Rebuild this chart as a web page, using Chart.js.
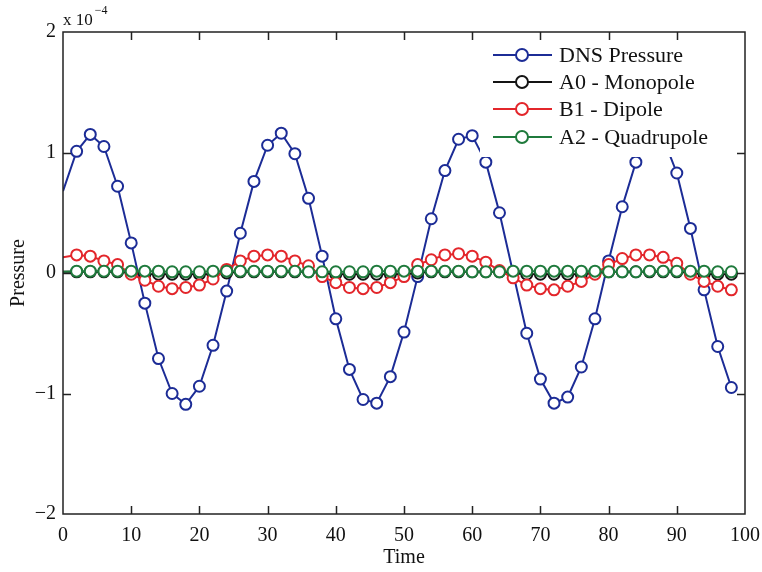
<!DOCTYPE html>
<html>
<head>
<meta charset="utf-8">
<script src="https://cdn.jsdelivr.net/npm/chart.js@4.4.0/dist/chart.umd.min.js"></script>
<style>
  html, body { margin: 0; padding: 0; background: #fff; }
  #wrap { width: 762px; height: 572px; }
</style>
</head>
<body>
<div id="wrap"><canvas id="c"></canvas></div>
<script>
// time samples (every 2 units)
const time = [0, 2, 4, 6, 8, 10, 12, 14, 16, 18, 20, 22, 24, 26, 28, 30, 32, 34, 36, 38,
              40, 42, 44, 46, 48, 50, 52, 54, 56, 58, 60, 62, 64, 66, 68, 70, 72, 74, 76, 78,
              80, 82, 84, 86, 88, 90, 92, 94, 96, 98];

// pressure, in units of 1e-4
const dnsPressure = [0.68, 1.01, 1.15, 1.05, 0.72, 0.25, -0.25, -0.71, -1.00, -1.09,
                     -0.94, -0.60, -0.15, 0.33, 0.76, 1.06, 1.16, 0.99, 0.62, 0.14,
                     -0.38, -0.80, -1.05, -1.08, -0.86, -0.49, -0.03, 0.45, 0.85, 1.11,
                     1.14, 0.92, 0.50, 0.00, -0.50, -0.88, -1.08, -1.03, -0.78, -0.38,
                     0.10, 0.55, 0.92, 1.12, 1.12, 0.83, 0.37, -0.14, -0.61, -0.95];

const monopole = [0.01, 0.01, 0.01, 0.01, 0.01, 0.00, -0.01, -0.01, -0.01, -0.01,
                  -0.01, -0.01, 0.00, 0.01, 0.01, 0.01, 0.01, 0.01, 0.01, 0.00,
                  -0.01, -0.01, -0.01, -0.01, -0.01, -0.01, 0.00, 0.01, 0.01, 0.01,
                  0.01, 0.01, 0.01, 0.00, -0.01, -0.01, -0.01, -0.01, -0.01, 0.00,
                  0.01, 0.01, 0.01, 0.01, 0.01, 0.01, 0.00, -0.01, -0.01, -0.01];

const dipole = [0.13, 0.15, 0.14, 0.10, 0.07, -0.01, -0.06, -0.11, -0.13, -0.12,
                -0.10, -0.05, 0.03, 0.10, 0.14, 0.15, 0.14, 0.10, 0.06, -0.03,
                -0.08, -0.12, -0.13, -0.12, -0.08, -0.03, 0.07, 0.11, 0.15, 0.16,
                0.14, 0.09, 0.02, -0.04, -0.10, -0.13, -0.14, -0.11, -0.07, -0.01,
                0.07, 0.12, 0.15, 0.15, 0.13, 0.08, -0.01, -0.07, -0.11, -0.14];

const quadrupole = [0.01, 0.015, 0.015, 0.015, 0.015, 0.015, 0.015, 0.015, 0.01, 0.01,
                    0.01, 0.015, 0.015, 0.015, 0.015, 0.015, 0.015, 0.015, 0.01, 0.01,
                    0.01, 0.01, 0.01, 0.015, 0.015, 0.015, 0.015, 0.015, 0.015, 0.015,
                    0.01, 0.01, 0.01, 0.015, 0.015, 0.015, 0.015, 0.015, 0.015, 0.015,
                    0.01, 0.01, 0.01, 0.015, 0.015, 0.015, 0.015, 0.015, 0.01, 0.01];

const xTicks = [0, 10, 20, 30, 40, 50, 60, 70, 80, 90, 100];
const yTicks = [-2, -1, 0, 1, 2];

const seriesNames = ['DNS Pressure', 'A0 - Monopole', 'B1 - Dipole', 'A2 - Quadrupole'];
const seriesColors = ['#1c2c96', '#141414', '#e3262b', '#1f7a3c'];

const FONT = 'Liberation Serif';

function toPoints(values) {
    return values.map((v, i) => ({ x: time[i], y: v }));
}

function makeDataset(i, values) {
    return {
        label: seriesNames[i],
        data: toPoints(values),
        borderColor: seriesColors[i],
        backgroundColor: '#ffffff',
        pointBorderColor: seriesColors[i],
        pointBackgroundColor: '#ffffff',
        borderWidth: 2,
        pointBorderWidth: 2,
        pointRadius: ctx => ctx.dataIndex === 0 ? 0 : 5.5,
        tension: 0,
        order: 4 - i
    };
}

// box, inward ticks, legend and exponent label
const framePlugin = {
    id: 'frame',
    afterDatasetsDraw(chart) {
        const { ctx, chartArea: a, scales: { x, y } } = chart;
        ctx.save();

        // legend background
        ctx.fillStyle = '#ffffff';
        ctx.fillRect(480, a.top + 1, a.right - 481, 156 - a.top);

        const rows = [55, 82, 109, 137];
        seriesNames.forEach((name, i) => {
            const yy = rows[i];
            ctx.strokeStyle = seriesColors[i];
            ctx.lineWidth = 2;
            ctx.beginPath();
            ctx.moveTo(493, yy);
            ctx.lineTo(552, yy);
            ctx.stroke();
            ctx.beginPath();
            ctx.arc(522, yy, 6, 0, Math.PI * 2);
            ctx.fillStyle = '#ffffff';
            ctx.fill();
            ctx.stroke();
            ctx.fillStyle = '#111';
            ctx.font = '22px "' + FONT + '"';
            ctx.textBaseline = 'middle';
            ctx.textAlign = 'left';
            ctx.fillText(name, 559, yy + 1);
        });

        // axes box
        ctx.strokeStyle = '#222';
        ctx.lineWidth = 1.5;
        ctx.strokeRect(a.left, a.top, a.right - a.left, a.bottom - a.top);

        // inward ticks
        const tl = 8;
        ctx.beginPath();
        xTicks.forEach(v => {
            if (v === 0 || v === 100) return;
            const px = Math.round(x.getPixelForValue(v)) + 0.5;
            ctx.moveTo(px, a.bottom); ctx.lineTo(px, a.bottom - tl);
            ctx.moveTo(px, a.top); ctx.lineTo(px, a.top + tl);
        });
        yTicks.forEach(v => {
            if (v === -2 || v === 2) return;
            const py = Math.round(y.getPixelForValue(v)) + 0.5;
            ctx.moveTo(a.left, py); ctx.lineTo(a.left + tl, py);
            ctx.moveTo(a.right, py); ctx.lineTo(a.right - tl, py);
        });
        ctx.stroke();

        // exponent label
        ctx.fillStyle = '#111';
        ctx.textAlign = 'left';
        ctx.textBaseline = 'alphabetic';
        ctx.font = '17px "' + FONT + '"';
        ctx.fillText('x 10', a.left, 25);
        const w = ctx.measureText('x 10').width;
        ctx.font = '12px "' + FONT + '"';
        ctx.fillText('\u22124', a.left + w + 2, 14);

        ctx.restore();
    }
};

new Chart(document.getElementById('c'), {
    type: 'line',
    data: {
        datasets: [
            makeDataset(0, dnsPressure),
            makeDataset(1, monopole),
            makeDataset(2, dipole),
            makeDataset(3, quadrupole)
        ]
    },
    options: {
        responsive: true,
        maintainAspectRatio: false,
        animation: false,
        layout: { padding: { top: 32, right: 17, bottom: 0, left: 0 } },
        scales: {
            x: {
                type: 'linear',
                min: 0,
                max: 100,
                afterBuildTicks: scale => { scale.ticks = xTicks.map(v => ({ value: v })); },
                afterFit: scale => {
                    scale.height = 58;
                    scale.paddingLeft = 0;
                    scale.paddingRight = 0;
                },
                grid: { display: false, drawTicks: false },
                border: { display: false },
                ticks: {
                    color: '#111',
                    padding: 10,
                    maxRotation: 0,
                    font: { family: FONT, size: 20 }
                },
                title: {
                    display: true,
                    text: 'Time',
                    color: '#111',
                    padding: { top: 0, bottom: 2 },
                    font: { family: FONT, size: 20 }
                }
            },
            y: {
                min: -2,
                max: 2,
                afterBuildTicks: scale => { scale.ticks = yTicks.map(v => ({ value: v })); },
                afterFit: scale => { scale.width = 63; },
                grid: { display: false, drawTicks: false },
                border: { display: false },
                ticks: {
                    color: '#111',
                    padding: 7,
                    font: { family: FONT, size: 20 },
                    callback: v => v < 0 ? '\u2212' + Math.abs(v) : String(v)
                },
                title: {
                    display: true,
                    text: 'Pressure',
                    color: '#111',
                    padding: { top: 7, bottom: 0 },
                    font: { family: FONT, size: 20 }
                }
            }
        },
        plugins: {
            legend: { display: false },
            tooltip: { enabled: false }
        }
    },
    plugins: [framePlugin]
});
</script>
</body>
</html>
